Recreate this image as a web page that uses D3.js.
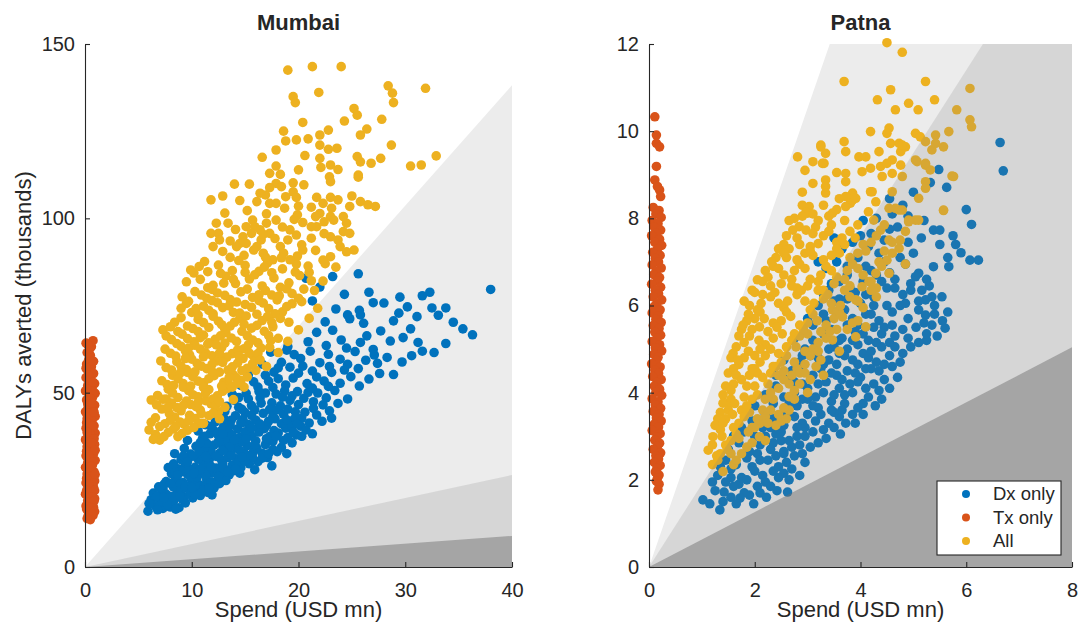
<!DOCTYPE html>
<html>
<head>
<meta charset="utf-8">
<title>Spend vs DALYs averted</title>
<script src="https://d3js.org/d3.v7.min.js"></script>
<style>
body{margin:0;background:#fff;}
text{font-family:"Liberation Sans",Arial,Helvetica,sans-serif;fill:#262626;}
</style>
</head>
<body>
<svg width="1079" height="629" id="mainsvg"></svg>
<script>

const seriesNames = ['Dx only','Tx only','All'];
const seriesColors = ['#0072BD','#D95319','#EDB120'];

const mumbaiXTicks = [0,10,20,30,40];
const mumbaiYTicks = [0,50,100,150];
const patnaXTicks = [0,2,4,6,8];
const patnaYTicks = [0,2,4,6,8,10,12];

// slopes of the cost-effectiveness wedges (DALYs averted per spend)
const mumbaiThresholds = [3.455,0.66,0.2225];
const patnaThresholds = [3.51,1.9,0.63];

// Mumbai, Dx only
const mumbaiDx = [
[5.9,16],[6.6,17.5],[7.3,16.8],[8.0,17.2],[8.8,17.0],[6.2,19.3],[7.1,19],[9.4,18.4],
[6.4,21.2],[7.2,21.8],[7.9,20.3],[8.6,21],[9.3,20.1],[10.1,19.8],[10.8,20.5],[11.5,21.4],[6.9,23],[8.3,22.9],[9.7,22.4],[12.1,22.7],
[7.6,24.5],[8.5,25.3],[9.2,24.2],[10.0,24.8],[10.7,23.6],[11.4,25],[12.2,24.3],[12.9,25.6],[13.5,26.4],[8.1,26.8],[9.6,26.6],[10.9,27],[11.9,26.9],
[7.8,28.5],[8.7,28.2],[9.4,29.3],[10.3,28.6],[11.1,29.4],[12.3,28.4],[13.1,28],[13.8,29.2],[14.6,28.5],[15.4,29.6],[16.2,30.2],[9.0,30.8],[10.6,30.9],[12.8,30.6],[14.2,31],[17.1,31.4],
[8.4,32.5],[9.9,32.4],[11.0,32.3],[11.8,33.4],[12.6,32.6],[13.4,33.6],[14.9,32.7],[15.8,33.2],[16.6,32.6],[17.6,33.7],[18.4,34.3],[10.4,34.6],[12.1,35],[13.9,35.2],[15.2,34.8],[16.9,35.1],[19.4,35.6],
[9.6,36.3],[11.0,36.8],[11.7,38.2],[12.8,37.3],[13.5,38.6],[14.5,37.1],[15.6,37.6],[16.3,38.7],[17.3,37.4],[18.1,38.4],[19.0,37.1],[20.3,37.5],[21.3,38.2],[10.6,39],[14.3,39.6],[18.8,39.8],[20.2,40.4],
[11.3,40.8],[12.2,41.6],[13.0,40.5],[15.3,40.9],[16.0,42.1],[17.0,40.6],[17.8,42.5],[19.6,42.4],[21.0,41.3],[22.2,41.8],[23.1,42.7],[12.5,43.6],[14.1,43.4],[15.0,44.3],[16.7,44.1],[18.6,43.8],[20.6,44.4],[22.9,44.8],
[13.3,46.1],[14.0,47.8],[15.6,46.3],[16.4,48.5],[17.5,47.1],[18.3,46.2],[19.2,47.8],[20.0,46.6],[21.4,47.4],[22.3,46.5],[23.7,46.9],[24.6,48.2],[13.8,49.5],[15.1,49.8],[17.9,49.6],[19.9,50.3],[21.8,49.9],[23.4,50.6],
[14.6,52.1],[16.2,51.6],[17.2,53.3],[18.8,52.2],[19.5,54.2],[20.8,52.6],[22.4,53.3],[23.9,52.7],[24.9,54.6],[25.7,51.9],[26.6,53.9],[15.3,55.1],[17.7,55.9],[21.3,56.2],[23.1,55.8],[25.6,56.9],[27.6,55.5],[28.9,55.2],
[16.6,58.2],[18.4,58.7],[19.2,57.3],[20.2,59.8],[22.0,58.6],[23.9,59.6],[24.6,58.1],[26.3,59.3],[27.4,58.4],[28.3,60.1],[29.7,58.8],[30.6,60.6],[17.4,61.6],[21.1,61.9],[25.3,61.8],[27.0,62.4],[31.6,61.9],[32.7,61.5],
[19.0,63.2],[20.9,64.6],[22.6,63.5],[24.0,65.1],[25.8,64.4],[26.4,66.3],[28.6,64.8],[29.8,65.8],[31.2,64.4],[33.8,64.1],[21.7,67.3],[23.2,67.9],[27.7,67.7],[30.5,68.3],[35.4,68.3],[36.3,66.6],
[22.5,70.3],[24.8,71.2],[26.1,69.9],[28.9,70.6],[29.4,72.8],[31.1,71.8],[33.1,72.2],[23.5,74],[25.7,73.6],[27.0,75.8],[30.2,74.6],[32.5,74.3],[34.5,70.2],[33.8,74.3],
[22.0,80.3],[23.2,83.3],[25.6,84.1],[28.0,75.7],[29.5,77.4],[31.6,77.8],[32.3,78.8],[38.0,79.6],[26.6,78.8],[24.3,78.2],[21.3,76.3],[20.7,82.8],[24.6,72.3],[25.8,72.3],
[7.0,18.5],[8.3,18.9],[9.9,21.5],[10.5,22.3],[11.3,23.3],[8.9,23.7],[7.3,22.5],[9.1,27.4],[10.0,27.3],[11.6,27.8],[12.7,27.2],[13.4,31.4],[11.7,31.2],[10.1,31.8],[14.4,30.2],[15.7,31.4],
[12.9,34.7],[14.2,34.1],[16.0,36.2],[17.6,36],[13.2,36.3],[12.0,39.3],[15.0,38.8],[16.8,39.7],[18.4,41.1],[14.8,42.3],[13.7,42.1],[19.4,40.4],[17.3,45.2],[19.0,45.3],[16.5,47],[18.7,50.5],
[20.9,50.1],[14.7,45.2],[12.4,38.1],[11.2,34.2],[9.3,34.0],[15.9,27.9],[17.5,29],[18.9,32.5],
[6.8,16.4],[7.7,17.9],[8.5,16.6],[9.1,19.5],[6.0,18.2],[6.7,20.2],[7.6,20.9],[8.2,20.1],[9.0,22],[10.3,21],[11.0,22.1],[11.9,20.7],[7.4,23.7],[8.0,24],[9.4,23.1],[10.3,23.3],
[11.8,24.4],[12.6,23.9],[13.2,24.8],[8.4,27.4],[9.9,25.9],[10.5,25.7],[11.3,26.3],[12.5,26],[13.9,27.6],[14.5,26.9],[8.3,29.6],[9.7,28.1],[10.8,28],[11.6,29.9],[12.9,29.6],[14.1,28.1],
[15.0,30.4],[16.6,31.2],[9.2,31.8],[10.7,33.2],[12.3,31.7],[13.7,32.2],[14.5,33.4],[15.3,32],[16.1,34.1],[17.2,32.5],[18.0,33.1],[11.4,35.5],[12.5,36],[13.6,34.5],[14.7,35.9],[15.9,35.1],
[17.0,36.8],[18.6,36.3],[19.8,37.9],[11.2,37.5],[12.7,39],[13.8,37.7],[15.1,36.8],[16.3,40.1],[17.7,39.1],[19.5,38.7],[20.7,39.3],[11.8,40.3],[13.6,40.7],[14.6,41.3],[16.4,41],[17.6,43.2],
[18.9,42.2],[20.3,42.7],[21.7,43.6],[13.1,44.6],[14.4,45.8],[15.9,45.1],[18.0,45.1],[19.7,44.5],[21.4,45.5],[22.6,48.5],[15.3,48.2],[16.9,49.9],[18.5,48.7],[20.5,48.4],[22.8,51.8],[15.8,53.1],
[18.1,54],[20.0,55.6],[21.7,54.5],[24.3,56.5],[19.6,60.9],[22.8,61],[18.1,57.1],[24.5,62.8],[27.1,60.8],
[7.4,19.9],[8.9,20.3],[10.0,22.8],[11.6,22.5],[8.7,26.4],[10.2,26.8],[11.8,28.8],[13.4,27.2],[9.6,30.2],[11.3,31.7],[12.9,33.4],[14.7,31.6],[10.8,35.7],[12.9,38.2],[14.0,36.4],
[15.6,39.9],[17.9,37.5],[13.0,42.6],[15.6,43.5],[17.2,41.8],[19.9,41],[14.4,48.6],[16.3,50.3],[17.6,51.5],[19.4,49.1],[21.3,51.3],[16.9,55],[20.4,57.6],[22.9,57.5],[18.9,62.2]
];

// Mumbai, Tx only
const mumbaiTx = [
[0.75,64.9],[0.1,64.2],[0.2,61.5],[0.35,59.5],[0.15,58.2],[0.6,57.4],[0.3,56.1],[0.8,55.5],[0.1,54.3],[0.45,53.8],[0.9,52.6],[0.25,52],[0.65,51.3],[0.05,50.5],[0.95,49.8],
[0.4,49.4],[0.7,48.6],[0.15,47.9],[0.55,47.1],[0.9,46.4],[0.3,45.8],[0.75,45],[0.05,44.5],[0.5,43.9],[0.95,43.2],[0.2,42.6],[0.65,41.9],[0.4,41.1],[0.85,40.5],[0.1,39.8],
[0.55,39.2],[0.95,38.4],[0.3,37.8],[0.7,37.1],[0.05,36.5],[0.45,35.8],[0.9,35.2],[0.2,34.5],[0.6,33.8],[0.35,33.1],[0.8,32.5],[0.1,31.9],[0.5,31.2],[0.95,30.6],[0.25,29.9],
[0.7,29.3],[0.05,28.6],[0.45,28],[0.85,27.3],[0.2,26.7],[0.6,26],[0.4,25.3],[0.9,24.7],[0.1,24.1],[0.55,23.4],[0.8,22.8],[0.3,22.1],[0.7,21.5],[0.05,20.9],[0.45,20.2],
[0.9,19.6],[0.25,19],[0.65,18.4],[0.4,17.7],[0.8,17.1],[0.15,16.6],[0.55,16],[0.35,15.3],[0.75,14.8],[0.5,13.6],
[0.6,63.2],[0.5,60.7],[0.8,59],[0.1,57],[0.55,55],[0.35,54.9],[0.75,53],[0.2,50.9],[0.8,50.1],[0.5,48.3],[0.25,46.8],[0.7,46.9],[0.35,44],[0.85,44.4],[0.15,41.4],
[0.7,40.3],[0.45,38.3],[0.2,38.6],[0.85,36.8],[0.6,35.6],[0.15,33.2],[0.95,33.5],[0.35,32],[0.75,30.1],[0.25,28.4],[0.6,28.8],[0.95,26.5],[0.15,25.4],[0.75,24.1],[0.35,23.7],
[0.9,21.9],[0.15,21.9],[0.6,20.1],[0.35,18.6],[0.85,18.9],[0.1,17.5],[0.6,17],[0.3,14.7],[0.9,15.9],[0.65,15.2],[0.2,13.9],[0.45,62.6],[0.25,63.8]
];

// Mumbai, All
const mumbaiAll = [
[19.0,142.5],[21.3,143.5],[24.0,143.5],[21.9,136.1],[19.5,134.9],[19.7,133.2],[28.4,138],[28.8,135.9],[28.9,133.2],[31.9,137.3],[25.2,131.5],[25.5,129.6],[24.3,127.9],[27.8,128.4],
[20.4,127.5],[18.6,125],[18.8,122.2],[17.9,119.6],[16.6,117.5],[19.8,122.5],[20.9,122.8],[22.0,123.9],[22.8,125.3],[22.0,121],[22.8,119.8],[23.6,120.1],[25.8,123.9],[26.4,125.6],
[28.7,121],[25.5,117.7],[25.8,116.2],[26.8,115.8],[27.7,117.2],[30.5,115],[31.5,115.3],[32.9,117.9],[20.6,118],[22.0,117.2],[22.1,114.6],[23,115.3],[23.7,114],[22.9,111.9],
[23,110.5],[25.6,112.4],[25.6,111.8],[20,113.9],[17.9,115],[18.3,112.6],[17.9,110],[18.4,109.1],[19.5,110.2],[20.5,109.6],[19.5,107.6],[19.8,106],[20.0,103.5],[19.9,101],
[17.3,112.9],[17.3,108.8],[16.9,106.7],[17.3,104.3],[17.9,104.3],[14.0,109.8],[15.4,109.8],[11.8,105.3],[12.9,106.4],[16.4,107.2],[16.1,104.8],[21.7,106],[22.3,104.3],[23,106],
[23.7,105.3],[23.1,102.9],[22.0,101.4],[21.6,100.5],[21.7,97.6],[25.0,106.4],[25.8,104.8],[26.5,103.9],[27.2,103.4],[24.8,103.4],[24.2,100.5],[24.5,98.6],[24.2,96.2],[23.7,93.8],
[24.8,95.7],[23,100.5],[23.3,99.5],[23,94.7],[23.9,91.9],[24.5,90.4],[25.2,90.9],[23,89],[22.3,88],[21.2,97.6],[21.2,94.3],[19.8,95.2],[19.0,93.8],[19.2,96.7],[17.9,99.5],
[17.0,98.6],[17.3,95.7],[18.3,91.9],[18.6,90],[17.6,88.1],[16.7,90],[16.1,91.9],[15.1,92.8],[15.7,99.5],[15.9,97.6],[15.6,95.7],[14.8,94.7],[14.5,92.8],[14.2,91.9],[15.1,97.6],
[16.4,96.7],[16.5,93.8],[12.3,98.6],[13.4,98.6],[12.5,95.7],[12.6,93.8],[12.0,91.9],[11.8,95.7],
[9.9,85.2],[11.2,87.6],[12.5,86.6],[13.8,85],[15.0,86.5],[16.3,84.8],[17.1,87.2],[18.5,85.5],[19.8,86.9],[21.0,84.5],[22.5,87],
[9.5,81.8],[10.8,82.5],[12.0,80.8],[13.2,83.4],[14.1,81.3],[15.4,82.6],[16.6,80.6],[17.7,82.9],[19.1,81.5],[20.1,83.6],[12.7,84.2],
[9.1,77.5],[10.3,79],[11.4,77.1],[12.4,78.6],[13.6,76.7],[14.6,78.9],[15.7,77.3],[16.9,79.3],[18.0,76.6],[19.4,78.4],[20.5,79.7],
[9.0,74.2],[10.0,73],[11.1,74.8],[12.0,72.6],[12.9,74.4],[13.9,73],[15.0,75.3],[16.1,72.5],[17.2,74.1],[18.5,73.2],[19.4,75.5],
[7.3,68],[8.4,70.2],[9.6,69.1],[10.6,71],[11.6,68.7],[12.5,70.5],[13.6,69.1],[14.5,71.3],[15.6,68.5],[16.6,70.7],[17.6,68.9],[18.3,71.3],
[8.1,65.2],[9.1,66.8],[10.2,64.6],[11.1,66.5],[12.2,65.3],[13.2,67.2],[14.2,64.7],[15.2,66.3],[16.2,64.3],[17.2,66.4],
[8.0,61.3],[9.0,63.3],[9.8,60.8],[10.8,62.5],[11.9,60.6],[12.8,62.9],[13.8,61.2],[14.9,62.6],[15.8,60.4],[16.5,62.8],
[7.6,57.2],[8.6,58.9],[9.5,56.6],[10.5,58.4],[11.4,56.9],[12.4,59.1],[13.4,56.5],[14.3,58.5],[15.2,57],[13.0,60.1],
[7.2,53.4],[8.2,55],[9.2,52.6],[10.1,54.6],[11.1,52.8],[12.1,54.9],[13.0,53],[13.9,55.1],[14.6,53.5],
[6.8,49.2],[7.8,51],[8.7,48.6],[9.7,50.6],[10.6,48.8],[11.6,50.9],[12.4,49.1],[13.3,51.2],
[6.2,47.9],[7.2,45.3],[8.1,47],[9.0,44.8],[9.9,46.6],[10.8,45],[11.8,46.8],[12.5,44.5],
[6.6,42.8],[7.5,41.1],[8.4,43],[9.3,40.9],[10.3,42.6],[11.1,41.2],[7.9,44],
[6.0,39.3],[7.0,36.4],[7.8,38.6],[8.7,37.4],[9.6,39.2],[6.6,38],
[17.0,57.5],[18.1,61.5],[19.0,64.7],[20.0,68],[21.0,71.3],[21.8,74.2],[20.3,76.1],[21.5,79.3],[22.3,82],[16.0,56.4],[14.9,51.6],[13.9,48],[12.6,42.5],
[12.9,90.5],[14.9,89.4],[16.9,88.9],[19.9,89.2],[21.6,90.8],[13.6,93.5],[17.8,94.2],[20.3,92.4],[22.4,95.6],[18.5,97.5],[20.4,98.8],[14.1,96.8],[13.1,101.5],[15.2,102.2],[17.0,101.3],
[18.7,102.9],[21.2,103.2],[14.5,105.1],[18.8,106.2],
[10.7,86.2],[14.4,87.9],[16.8,86.0],[19.2,88.1],[20.9,86.3],[23.5,86],
[10.2,84.3],[11.5,80.1],[13.9,82.5],[15.9,83.8],[18.3,80.2],[19.7,84.6],[21.2,82.1],
[9.7,76.2],[11.9,79.6],[13.1,77.9],[15.2,79.7],[16.3,76.4],[17.5,78],[18.9,79.8],[20.0,77.1],
[9.5,75.6],[10.6,72.2],[11.6,73.6],[12.4,75.8],[13.5,74.9],[14.5,72.8],[15.6,74.5],[16.7,75.7],[17.8,72.6],[18.9,74.7],
[8.0,68.9],[9.0,71.5],[10.1,68.4],[11.1,70.1],[12.0,71.9],[13.1,68.2],[14.0,70.2],[15.1,72],[16.1,69.3],[17.1,71.8],[19.1,70.2],
[7.6,66.3],[8.6,64.1],[9.6,65.5],[10.6,67.5],[11.6,64.3],[12.7,66.3],[13.7,65.7],[14.7,67.6],[15.7,65.1],[16.8,67.6],[18.1,65.6],
[7.5,62.5],[8.5,60.5],[9.4,62],[10.3,63.6],[11.3,61.4],[12.3,63.7],[13.3,60.2],[14.3,62.3],[15.3,63.7],[16.2,61.2],[17.3,63],
[7.1,59.1],[8.1,56.5],[9.0,57.6],[10.0,59.6],[10.9,57.6],[11.9,58.1],[12.9,58.7],[13.8,57.4],[14.8,59.8],[15.7,58.3],
[7.7,52.3],[8.7,54.1],[9.6,55.8],[10.6,53.3],[11.6,54],[12.6,55.9],[13.5,52.4],[14.2,54.2],[15.2,54.5],
[7.3,48.1],[8.2,49.9],[9.2,51.6],[10.1,49.4],[11.1,51.5],[12.0,48.2],[12.9,50.4],[13.8,51.6],
[6.7,46.5],[7.6,48.2],[8.6,45.7],[9.5,47.6],[10.4,46],[11.3,47.7],[12.2,46.1],[13.1,45.8],
[7.0,40.3],[8.0,42.1],[8.9,41.6],[9.8,43.5],[10.7,41.2],[11.6,43.4],[6.2,41.5],
[7.4,37.4],[8.3,39.6],[9.1,38.3],[10.2,40.0],[6.4,36.6],
[8.5,40.3],[9.7,41.9],[10.9,44],[12.0,44.1],[7.8,45.9],[9.2,46.3],[10.6,47.2],[12.6,47.4],[8.3,52.1],[9.9,51.9],[11.3,49.9],[12.8,51.9],[14.3,52.7],[8.9,55.6],[10.3,56],
[11.9,56.1],[13.5,54.3],[14.7,56.3],[9.4,59.8],[11.1,60.3],[12.6,61.3],[14.4,60.6],[16.4,59.4],[9.7,62.8],[11.5,63.9],[13.1,64.2],[15.4,61.3],[17.4,64.9],[8.7,67.5],[10.8,65.8],
[12.8,69.5],[14.9,69.6],[17.5,70.1],[10.4,74.1],[11.9,76.4],[14.2,76],[16.3,78.1],[18.2,77.8],[10.9,78],[13.0,81.4],[15.0,84.5],[17.5,84.4],[11.5,84.7],[13.6,88.8],[15.8,90.9],
[18.4,88.7],[20.4,90.9],[16.7,95.4],[19.6,99.7],[22.4,99]
];

// Patna, Dx only
const patnaDx = [
[1.02,1.54],[1.34,1.31],[1.25,1.75],[1.55,1.6],[1.9,1.65],[1.7,1.9],[2.05,1.85],[1.45,1.95],
[1.3,2.1],[1.55,2.25],[1.75,2.05],[1.95,2.3],[2.15,2.1],[2.35,2.2],[2.55,2.15],[1.45,2.45],[1.85,2.5],[2.25,2.45],[2.6,2.4],
[1.5,2.7],[1.7,2.85],[1.9,2.65],[2.1,2.8],[2.3,2.7],[2.5,2.9],[2.7,2.75],[2.85,2.8],[1.6,3.0],[2.0,3.0],[2.4,3.05],[2.8,3.0],
[1.75,3.2],[1.95,3.35],[2.15,3.2],[2.35,3.4],[2.55,3.25],[2.75,3.45],[2.95,3.2],[3.15,3.35],[3.4,3.3],[3.6,3.45],[2.2,3.5],[2.6,3.55],[3.0,3.5],
[2.0,3.7],[2.35,3.75],[2.55,3.9],[2.8,3.7],[3.0,3.85],[3.2,3.65],[3.45,3.8],[3.7,3.75],[3.95,3.65],[4.15,3.9],[2.2,3.95],[2.75,4.0],[3.3,4.0],[3.85,4.0],
[2.4,4.15],[2.6,4.3],[2.9,4.2],[3.1,4.4],[3.35,4.25],[3.55,4.4],[3.8,4.2],[4.0,4.35],[4.25,4.2],[4.45,4.3],[2.7,4.5],[3.25,4.55],[3.75,4.5],[4.2,4.55],
[2.55,4.75],[2.85,4.7],[3.05,4.85],[3.4,4.75],[3.6,4.9],[3.85,4.75],[4.05,4.9],[4.3,4.7],[4.55,4.85],[4.8,4.9],[2.95,5.0],[3.5,5.05],[3.95,5.1],[4.4,5.05],
[2.75,5.25],[3.1,5.2],[3.3,5.35],[3.65,5.25],[3.9,5.4],[4.15,5.2],[4.4,5.35],[4.65,5.3],[4.9,5.25],[5.25,5.2],[5.6,5.48],[3.75,5.55],[4.25,5.5],
[3.0,5.7],[3.35,5.65],[3.55,5.85],[3.85,5.7],[4.1,5.8],[4.35,5.65],[4.6,5.85],[4.9,5.7],[5.23,5.78],[5.55,5.65],[3.2,6.0],[4.0,6.05],[4.75,6.0],
[3.3,6.25],[3.6,6.15],[3.9,6.3],[4.25,6.2],[4.5,6.4],[4.8,6.25],[5.16,6.35],[5.23,6.13],[5.54,6.2],[3.45,6.5],[4.05,6.55],[4.65,6.6],
[3.35,6.85],[3.75,6.7],[4.2,6.8],[4.55,6.75],[4.85,6.95],[5.04,6.66],[5.1,6.74],[5.38,6.89],[5.67,6.89],[3.95,7.1],[4.35,7.2],[5.9,7.21],[6.07,7.04],[6.23,7.04],
[3.5,7.55],[4.0,7.6],[4.45,7.5],[5.38,7.73],[5.5,7.73],[6.1,7.86],[4.3,8.0],[4.8,8.3],[5.32,8.82],[5.63,8.71],[5.48,9.12],[6.64,9.74],[6.7,9.09],[3.2,7.0],[4.7,7.8],
[1.6,1.85],[1.85,2.0],[2.2,1.95],[2.45,2.05],[1.65,2.35],[2.05,2.6],[2.4,2.55],[2.75,2.55],[1.8,3.1],[2.3,3.2],[2.5,3.1],[2.9,3.3],[3.1,3.7],[3.5,3.55],[3.6,4.1],[3.95,4.25],
[2.9,4.5],[3.2,4.8],[3.75,5.0],[4.15,4.8],[4.2,5.8],[4.5,6.0],[3.8,6.4],[4.1,6.9],[4.45,5.5],[3.5,6.1],
[1.15,1.45],[1.4,1.5],[1.65,1.45],[1.8,1.7],[2.1,1.7],[2.3,1.85],[2.65,2.0],[2.45,2.3],[2.7,2.25],[1.35,2.3],[1.55,2.05],[2.0,2.2],[2.1,2.45],[2.55,2.6],[2.9,2.6],[2.65,2.9],
[2.95,3.0],[3.1,3.1],[3.3,3.15],[3.5,3.2],[3.25,3.5],[3.45,3.6],[3.65,3.6],[3.85,3.5],[4.05,3.75],[3.15,3.9],[3.5,3.95],[3.7,3.95],[4.1,4.1],[4.35,4.05],[3.0,4.1],[3.2,4.2],
[3.45,4.45],[3.65,4.3],[3.9,4.45],[4.1,4.55],[4.35,4.5],[4.6,4.6],[3.3,4.65],[3.55,4.65],[3.7,4.85],[3.95,4.65],[4.2,4.95],[4.45,4.65],[4.65,5.05],[3.4,5.0],[3.6,5.2],[3.85,5.2],
[4.05,5.35],[4.3,5.15],[4.55,5.15],[4.8,5.45],[5.05,5.5],[3.45,5.45],[3.95,5.55],[4.6,5.55],[5.35,5.55],[3.7,5.9],[4.25,6.0],[4.85,6.05],[5.1,5.9],[5.4,6.0],[3.75,6.15],[4.1,6.25],
[4.4,6.55],[4.95,6.5],[5.3,6.45],[3.6,6.55],[4.45,7.0],[4.75,7.1],[5.0,7.2],[5.5,7.4],[5.75,7.6],[4.15,7.35],[5.2,7.95],[4.6,8.1],[5.0,8.6],[6.0,8.2],
[1.2,1.95],[1.42,1.72],[1.72,1.58],[1.98,1.45],[2.22,1.6],[2.42,1.75],[2.62,1.72],[2.85,2.1],[2.95,2.4],[3.05,2.75],[3.2,2.85],[3.35,2.95],[3.62,3.05],[3.72,3.3],[3.9,3.3],
[4.05,3.5],[4.28,3.7],[4.4,3.85],[4.55,4.1],[4.7,4.35],[4.75,4.7],[4.95,5.05],[5.1,5.15],[5.25,5.35],[5.45,5.3],[5.2,5.6],[5.4,5.8],[5.65,5.85],[5.35,6.2],[5.1,6.1],
[4.95,6.35],[5.25,6.6],[4.65,6.4],[4.3,6.7],[3.55,7.0],[3.65,7.3],[3.85,7.45],[4.2,7.65],[4.55,7.75],[4.9,7.45],[5.15,7.55],[5.65,7.1],[5.8,7.4],[4.05,7.95],[4.55,8.45],
[4.9,8.05],[2.35,2.85],[2.55,2.65],[2.2,3.0],[2.8,3.2],[2.65,3.75],[2.9,3.85],[2.4,4.4],[2.75,4.25],[2.9,4.85],[3.15,5.05],[3.1,5.55],[3.3,5.8],[3.4,6.35],[3.75,6.9]
];

// Patna, Tx only
const patnaTx = [
[0.11,10.33],[0.14,9.91],[0.14,9.72],[0.2,9.64],[0.14,9.19],[0.11,8.88],[0.16,8.73],[0.2,8.65],[0.22,8.5],
[0.08,8.25],[0.19,8.18],[0.13,8.1],[0.23,8.02],[0.06,7.95],[0.17,7.88],[0.1,7.8],[0.22,7.73],[0.14,7.66],[0.05,7.6],[0.2,7.52],[0.11,7.45],[0.24,7.38],[0.16,7.3],[0.07,7.22],
[0.21,7.15],[0.12,7.08],[0.18,7.0],[0.06,6.93],[0.23,6.86],[0.14,6.79],[0.09,6.71],[0.2,6.64],[0.16,6.56],[0.05,6.49],[0.22,6.42],[0.12,6.35],[0.18,6.27],[0.08,6.2],[0.24,6.13],
[0.15,6.05],[0.1,5.98],[0.21,5.9],[0.06,5.83],[0.17,5.76],[0.13,5.68],[0.23,5.61],[0.08,5.54],[0.19,5.47],[0.11,5.39],[0.22,5.32],[0.15,5.25],[0.06,5.17],[0.2,5.1],[0.12,5.03],
[0.24,4.96],[0.09,4.88],[0.17,4.81],[0.14,4.74],[0.05,4.66],[0.21,4.59],[0.11,4.52],[0.18,4.44],[0.07,4.37],[0.23,4.3],[0.15,4.23],[0.1,4.15],[0.2,4.08],[0.13,4.01],[0.24,3.94],
[0.06,3.86],[0.17,3.79],[0.12,3.72],[0.22,3.64],[0.08,3.57],[0.19,3.5],[0.14,3.42],[0.23,3.35],[0.1,3.28],[0.18,3.21],[0.06,3.13],[0.21,3.06],[0.15,2.99],[0.11,2.91],[0.2,2.84],
[0.16,2.77],[0.08,2.7],[0.22,2.62],[0.13,2.55],[0.18,2.48],[0.1,2.4],[0.21,2.33],[0.15,2.26],[0.12,2.18],[0.19,2.11],[0.16,2.04],[0.14,1.97],[0.19,1.9],[0.17,1.77]
];

// Patna, All
const patnaAll = [
[4.5,12.03],[4.79,11.81],[3.69,11.14],[5.23,11.14],[4.57,10.95],[6.07,10.98],[4.32,10.72],[4.91,10.64],[5.4,10.72],[4.66,10.49],[5.09,10.49],[5.82,10.49],[4.54,10.07],[4.5,9.95],
[6.07,10.26],[6.1,10.1],[4.19,9.99],[4.73,9.72],[4.85,9.64],[5.04,9.95],[5.13,9.87],[5.42,9.91],[5.67,9.99],[5.23,9.76],[5.57,9.64],[3.69,9.76],[3.72,9.53],[3.25,9.64],[3.34,9.49],
[2.81,9.41],[3.97,9.41],[4.1,9.41],[4.35,9.53],[4.76,9.53],[4.6,9.34],[4.38,9.19],[4.5,9.26],[4.03,9.07],[4.19,9.15],[3.31,9.26],[4.76,9.22],[5.07,9.3],[5.23,9.22],[3.34,8.88],
[3.34,8.73],[3.72,9.03],[3.72,8.84],[4.41,8.96],[4.6,9.03],[5.32,9.11],[5.23,8.84],[5.76,8.96],[5.57,8.18],[5.1,8.46],[5.23,8.69],[4.79,8.96],[4.6,8.61],[4.22,8.61],[3.85,8.58],
[3.81,8.35],[3.34,8.58],[3.03,8.27],[3.0,8.12],[2.84,7.81],[2.97,7.73],[2.72,7.73],[3.47,8.12],[3.72,8.27],[3.85,8.42],[4.25,7.96],[4.54,8.23],[4.73,8.19],[4.91,7.96],[5.04,7.96],
[3.25,9.68],[3.28,9.26],[2.9,8.3],[2.97,8.15],[3.72,8.5],[3.91,8.46],[4.19,8.61],[4.29,8.38],[4.66,8.23],[4.79,8.19],[4.91,7.92],[5.1,7.96],[5.57,8.19],[5.73,8.97],[4.57,9.72],
[4.79,9.68],[5.04,9.34],[5.23,9.26],[5.35,9.57],[5.42,9.72],
[4.54,7.5],[4.73,7.31],[4.38,7.73],[4.5,7.04],[4.29,6.74],[4.03,6.43],[4.16,6.55],[3.91,6.13],[3.47,5.9],[3.66,5.74],[4.1,5.51],[3.91,5.28],
[2.55,7.4],[2.8,7.55],[3.05,7.35],[3.3,7.6],[3.55,7.45],[3.8,7.7],[4.05,7.4],[4.3,7.6],[4.6,7.45],[4.85,7.7],[3.15,7.8],
[2.35,6.9],[2.6,7.1],[2.85,6.95],[3.1,7.15],[3.35,6.9],[3.6,7.2],[3.85,6.95],[4.1,7.25],[4.35,7.0],[4.6,7.2],[4.85,6.95],[2.45,7.3],
[2.05,6.59],[2.3,6.45],[2.55,6.7],[2.8,6.4],[3.05,6.6],[3.3,6.35],[3.55,6.65],[3.8,6.45],[4.05,6.7],[4.3,6.4],[4.54,6.74],[2.2,6.8],
[1.8,6.1],[2.05,5.9],[2.3,6.2],[2.55,5.95],[2.8,6.25],[3.05,5.9],[3.3,6.15],[3.55,5.85],[3.8,6.2],[4.05,5.95],[4.3,6.2],[1.95,6.35],
[1.75,5.45],[2.0,5.7],[2.25,5.4],[2.5,5.65],[2.75,5.35],[3.0,5.6],[3.25,5.4],[3.5,5.7],[3.75,5.45],[3.95,5.65],[2.09,5.51],
[1.59,4.9],[1.8,5.15],[2.0,4.85],[2.2,5.1],[2.45,4.9],[2.7,5.2],[2.95,4.95],[3.2,5.15],[3.47,5.21],[3.6,4.95],[1.7,5.3],
[1.5,4.45],[1.7,4.65],[1.9,4.4],[2.1,4.7],[2.3,4.45],[2.5,4.7],[2.7,4.4],[2.95,4.65],[3.16,4.6],[3.3,4.4],[1.55,4.8],
[1.4,3.95],[1.6,4.2],[1.8,3.9],[2.0,4.15],[2.2,3.85],[2.45,4.1],[2.65,3.91],[2.85,4.2],[3.0,4.0],[1.5,3.76],
[1.3,3.4],[1.5,3.6],[1.7,3.3],[1.9,3.55],[2.1,3.3],[2.3,3.6],[2.5,3.35],[2.65,3.6],[1.4,3.76],
[1.12,2.68],[1.21,2.99],[1.45,2.8],[1.65,3.05],[1.85,2.75],[2.09,2.99],[1.35,3.15],[1.95,3.2],[1.55,2.6],
[1.4,2.19],[1.6,2.35],[1.3,2.45],
[2.65,7.95],[2.9,8.05],[3.2,7.95],[3.45,7.85],[3.7,7.95],[3.95,7.85],[4.15,8.15],[4.45,7.85],
[2.4,7.1],[2.65,7.3],[2.95,7.2],[3.2,7.42],[3.45,7.15],[3.7,7.4],[3.95,7.2],[4.2,7.45],[4.45,7.25],[4.75,7.5],
[2.15,6.55],[2.45,6.85],[2.7,6.6],[2.95,6.85],[3.2,6.55],[3.45,6.8],[3.7,6.6],[3.95,6.85],[4.2,6.55],[4.4,6.9],
[1.9,6.0],[2.15,6.25],[2.45,6.05],[2.7,6.45],[2.95,6.1],[3.2,6.35],[3.45,6.05],[3.7,6.35],[3.95,6.1],[4.2,6.35],
[1.85,5.65],[2.1,5.85],[2.35,5.6],[2.6,5.85],[2.85,5.55],[3.1,5.8],[3.35,5.55],[3.6,5.85],[3.85,5.6],
[1.65,5.05],[1.9,5.3],[2.1,5.0],[2.35,5.25],[2.6,5.05],[2.85,5.3],[3.1,5.0],[3.35,5.25],[3.55,5.45],
[1.6,4.55],[1.8,4.8],[2.0,4.55],[2.2,4.85],[2.4,4.6],[2.6,4.85],[2.8,4.55],[3.05,4.85],[3.25,4.75],
[1.45,4.15],[1.65,4.4],[1.85,4.15],[2.05,4.45],[2.25,4.2],[2.45,4.4],[2.65,4.2],[2.85,4.45],[3.05,4.3],
[1.35,3.55],[1.55,3.85],[1.75,3.6],[1.95,3.85],[2.15,3.6],[2.35,3.85],[2.55,3.65],[2.75,3.85],
[1.25,3.25],[1.45,3.4],[1.6,3.2],[1.8,3.45],[2.0,3.2],[2.2,3.45],[2.4,3.25],[2.6,3.4],
[1.2,2.8],[1.35,2.6],[1.55,2.9],[1.75,2.6],[1.95,2.85],[2.2,2.9],[1.65,2.45],[1.2,2.35],
[1.28,2.55],[1.48,2.7],[1.7,2.95],[1.88,3.1],[2.05,3.4],[2.25,3.3],[2.45,3.5],[1.38,3.0],[1.58,3.5],[1.4,3.3],[1.62,3.75],[1.85,3.7],[2.05,3.95],[2.3,4.0],[2.55,4.3],[2.75,4.05],
[1.55,4.05],[1.75,4.3],[1.95,4.55],[2.15,4.35],[2.35,4.6],[2.55,4.5],[2.75,4.7],[2.95,4.45],[1.68,4.75],[1.88,4.95],[2.08,5.2],[2.3,5.0],[2.52,5.35],[2.78,5.05],[3.0,5.35],[3.2,4.95],
[1.78,5.55],[1.95,5.45],[2.18,5.7],[2.42,5.5],[2.68,5.75],[2.92,5.45],[3.18,5.65],[3.42,5.4],[1.88,5.8],[2.12,6.05],[2.38,6.3],[2.62,6.1],[2.88,6.35],[3.12,6.05],[3.38,6.25],[3.62,6.0],
[2.0,6.3],[2.25,6.65],[2.5,6.5],[2.75,6.8],[3.0,6.45],[3.25,6.7],[3.5,6.5],[3.75,6.8],[2.32,7.0],[2.55,7.2],[2.8,7.05],[3.05,7.25],[3.3,7.05],[3.55,7.3],[3.8,7.1],[2.6,7.6],
[2.85,7.4],[3.1,7.65],[3.4,7.7],[3.65,7.55],[3.9,7.55],[2.75,8.0],[3.1,8.1],[3.3,8.3],[3.55,8.2],[3.6,8.45],[2.95,9.1],[3.1,9.3],[3.55,9.05],[3.4,8.05],[2.9,8.6],[3.1,8.8]
];

const svg = d3.select('#mainsvg');
svg.append('rect').attr('width',1079).attr('height',629).attr('fill','#fff');

const marginTop = 44, innerHeight = 523;

const panels = [
    {title:'Mumbai', left:85, width:427, xTicks:mumbaiXTicks, yTicks:mumbaiYTicks, thresholds:mumbaiThresholds,
     series:[mumbaiDx,mumbaiTx,mumbaiAll], yLabel:true, legend:false},
    {title:'Patna', left:649, width:423, xTicks:patnaXTicks, yTicks:patnaYTicks, thresholds:patnaThresholds,
     series:[patnaDx,patnaTx,patnaAll], yLabel:false, legend:true}
];

panels.forEach((p,i) => {
    const innerWidth = p.width;
    const g = svg.append('g').attr('transform',`translate(${p.left},${marginTop})`);
    const x = d3.scaleLinear().domain(d3.extent(p.xTicks)).range([0,innerWidth]);
    const y = d3.scaleLinear().domain(d3.extent(p.yTicks)).range([innerHeight,0]);

    g.append('clipPath').attr('id','clip'+i)
        .append('rect').attr('width',innerWidth).attr('height',innerHeight);

    const xmax = x.domain()[1];
    const wedge = s => [[0,0],[xmax,s*xmax],[xmax,0]];
    const line = d3.line().x(d => x(d[0])).y(d => y(d[1]));

    // lightest wedge sits under the points
    g.append('path').attr('d',line(wedge(p.thresholds[0])) + 'Z')
        .attr('fill','#ececec').attr('clip-path',`url(#clip${i})`);

    p.series.forEach((s,k) => {
        g.append('g').selectAll('circle').data(s).join('circle')
            .attr('cx',d => x(d[0]))
            .attr('cy',d => y(d[1]))
            .attr('r',4.8)
            .attr('fill',seriesColors[k]);
    });

    // darker wedges are translucent, drawn on top
    g.append('path').attr('d',line(wedge(p.thresholds[1])) + 'Z')
        .attr('fill','#808080').attr('fill-opacity',0.2).attr('clip-path',`url(#clip${i})`);
    g.append('path').attr('d',line(wedge(p.thresholds[2])) + 'Z')
        .attr('fill','#6e6e6e').attr('fill-opacity',0.48).attr('clip-path',`url(#clip${i})`);

    const xAxis = d3.axisBottom(x).tickValues(p.xTicks).tickSizeInner(-5).tickSizeOuter(0).tickPadding(16);
    const yAxis = d3.axisLeft(y).tickValues(p.yTicks).tickSizeInner(-5).tickSizeOuter(0).tickPadding(10);
    const gx = g.append('g').attr('transform',`translate(0,${innerHeight})`).call(xAxis);
    const gy = g.append('g').call(yAxis);
    [gx,gy].forEach(a => {
        a.select('.domain').attr('stroke','#262626').attr('stroke-width',1.1);
        a.selectAll('.tick line').attr('stroke','#262626').attr('stroke-width',1.1);
        a.selectAll('.tick text').attr('font-size','20px').attr('fill','#262626')
            .attr('font-family','"Liberation Sans",Arial,sans-serif');
    });

    g.append('text').text(p.title)
        .attr('x',innerWidth/2).attr('y',-14)
        .attr('text-anchor','middle').attr('font-size','22px').attr('font-weight','bold')
        .attr('fill','#000');

    g.append('text').text('Spend (USD mn)')
        .attr('x',innerWidth/2).attr('y',innerHeight + 50)
        .attr('text-anchor','middle').attr('font-size','22px');

    if (p.yLabel) {
        g.append('text').text('DALYs averted (thousands)')
            .attr('transform',`translate(${31 - p.left},${innerHeight/2}) rotate(-90)`)
            .attr('text-anchor','middle').attr('font-size','22px');
    }

    if (p.legend) {
        const lg = g.append('g').attr('transform',`translate(${937 - p.left},${481 - marginTop})`);
        lg.append('rect').attr('width',124).attr('height',74)
            .attr('fill','#fff').attr('stroke','#262626').attr('stroke-width',1.1);
        seriesNames.forEach((name,k) => {
            lg.append('circle').attr('cx',29).attr('cy',13 + k*23.5).attr('r',4).attr('fill',seriesColors[k]);
            lg.append('text').text(name).attr('x',56).attr('y',13 + k*23.5)
                .attr('dy','0.35em').attr('font-size','18.5px');
        });
    }
});

</script>
</body>
</html>
